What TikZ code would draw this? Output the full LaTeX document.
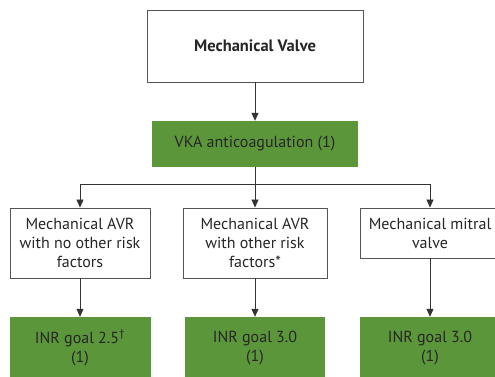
\documentclass[tikz,border=0pt]{standalone}
\usepackage{fontspec}
\setmainfont{PT Sans}
\usetikzlibrary{arrows.meta}
\definecolor{boxgreen}{RGB}{92,150,58}
\definecolor{linegray}{RGB}{85,85,85}
\begin{document}
\begin{tikzpicture}[x=1pt, y=-1pt,
  whitebox/.style={draw=linegray, line width=0.9pt, fill=white, align=center, inner sep=2pt,
    font=\fontsize{16}{19}\selectfont, text=black!85},
  greenbox/.style={fill=boxgreen, align=center, inner sep=2pt,
    font=\fontsize{16}{19}\selectfont, text=black!85},
  flow/.style={draw=black!80, line width=0.8pt, -{Triangle[length=8pt,width=7pt]}}]
  \useasboundingbox (0,0) rectangle (495,377);
  \clip (0,0) rectangle (495,377);
  \node[whitebox, minimum width=216pt, minimum height=72pt, font=\fontsize{16.5}{19}\selectfont\bfseries] (valve) at (255,46) {Mechanical Valve};
  \node[greenbox, minimum width=206pt, minimum height=46pt] (vka) at (255,144) {VKA anticoagulation (1)};
  \node[whitebox, minimum width=140pt, minimum height=70pt] (avrno) at (80,243) {Mechanical AVR\\with no other risk\\factors};
  \node[whitebox, minimum width=144pt, minimum height=70pt] (avrrisk) at (255,243) {Mechanical AVR\\with other risk\\factors*};
  \node[whitebox, minimum width=140pt, minimum height=50pt] (mitral) at (430,233) {Mechanical mitral\\valve};
  \node[greenbox, minimum width=141pt, minimum height=62pt] (inrno) at (80,348) {INR goal 2.5\textsuperscript{†}\\(1)};
  \node[greenbox, minimum width=140pt, minimum height=62pt] (inrrisk) at (255,348) {INR goal 3.0\\(1)};
  \node[greenbox, minimum width=140pt, minimum height=62pt] (inrmitral) at (430,348) {INR goal 3.0\\(1)};
  \coordinate (split) at (255,184);
  \draw[flow] (valve) -- (vka);
  \draw[flow] (vka) -- (avrrisk);
  \draw[flow] (split) -| (avrno.north);
  \draw[flow] (split) -| (mitral.north);
  \draw[flow] (avrno) -- (inrno);
  \draw[flow] (avrrisk) -- (inrrisk);
  \draw[flow] (mitral) -- (inrmitral);
\end{tikzpicture}
\end{document}
